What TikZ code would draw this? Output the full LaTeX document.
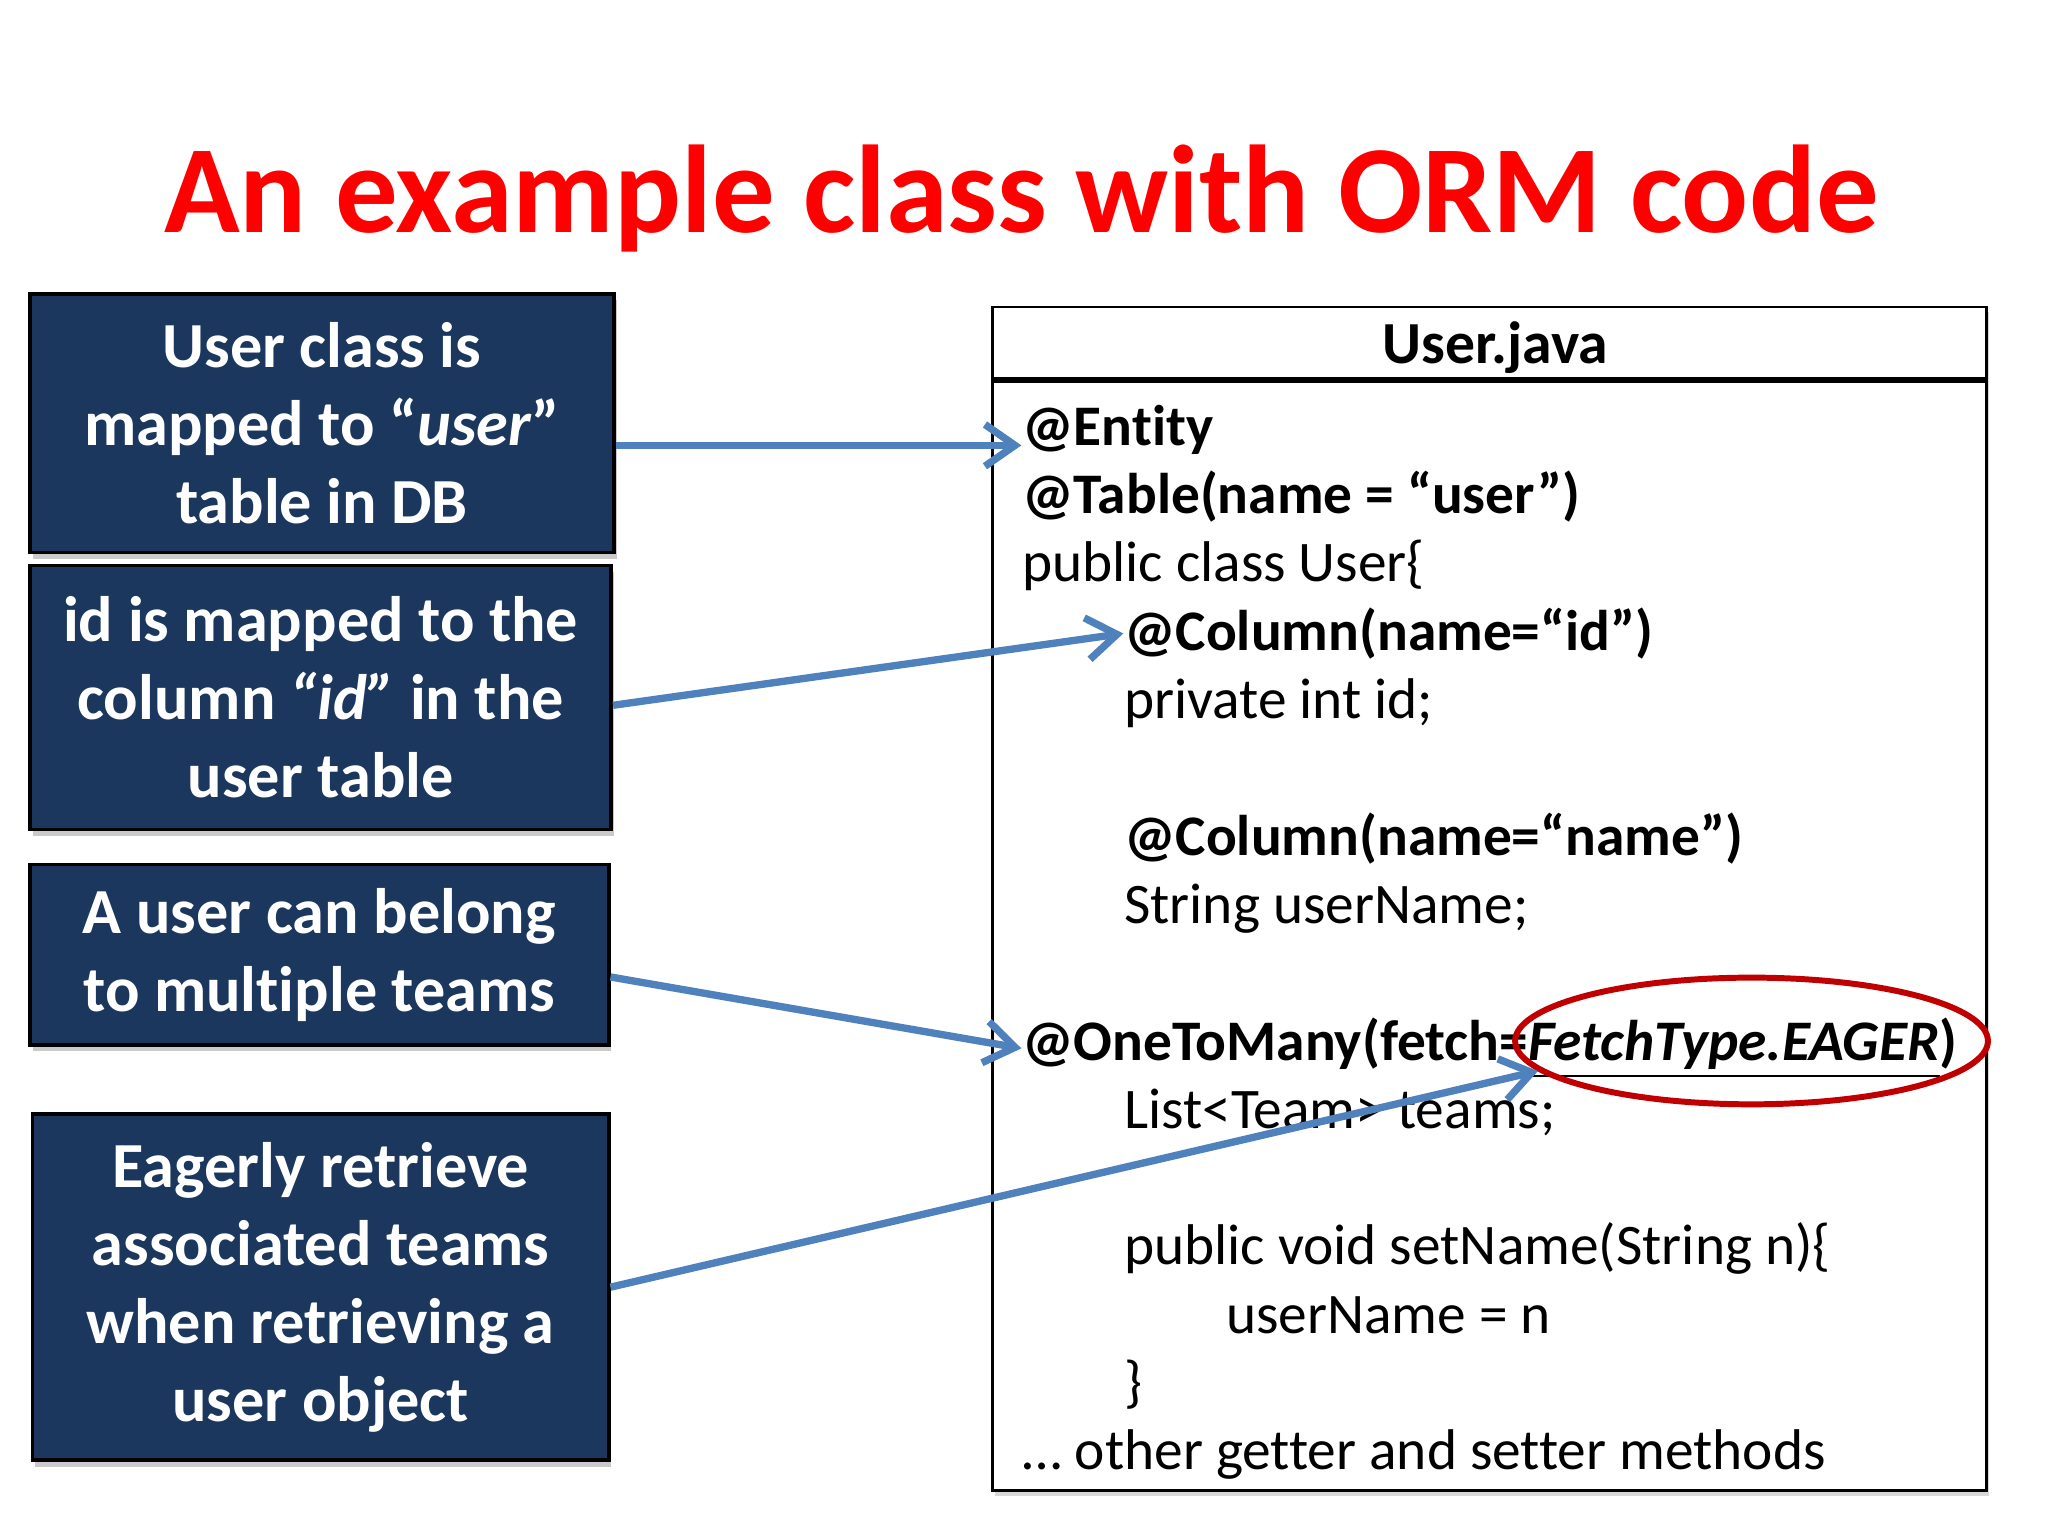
\documentclass[tikz,border=0pt]{standalone}
\usepackage{fontspec}
\setmainfont{Carlito}[Ligatures=NoCommon]
\usetikzlibrary{arrows.meta, positioning, calc, shadows, shapes.geometric}
\definecolor{navy}{HTML}{1B375E}
\definecolor{linkblue}{HTML}{4F81BD}
\definecolor{ringred}{HTML}{C00000}

\begin{document}
\begin{tikzpicture}[
  note/.style={rectangle,draw=black,line width=0.8pt,fill=navy,text=white,align=center,
    font=\fontsize{14}{17}\selectfont\bfseries,inner sep=0pt,
    drop shadow={shadow xshift=0.6pt,shadow yshift=-1.4pt,fill=gray!70,opacity=0.6}},
  codebox/.style={rectangle,draw=black,line width=0.6pt,fill=white,inner sep=0pt,
    drop shadow={shadow xshift=0.6pt,shadow yshift=-1.2pt,fill=gray!60,opacity=0.5}},
  code/.style={anchor=base west,inner sep=0pt,font=\fontsize{12.5}{15}\selectfont},
  ann/.style={code,font=\fontsize{12.5}{15}\selectfont\bfseries},
  link/.style={-{Straight Barb[length=2.3mm,width=3.2mm]},line width=1.6pt,linkblue},
  ring/.style={ellipse,draw=ringred,line width=1.3pt,inner sep=0pt}
]
  \useasboundingbox (0,0) rectangle (15.68,-11.76);
  \node[font=\fontsize{27.2}{33}\selectfont\bfseries,text=red] (title) at (7.82,-1.52) {An example class with ORM code};

  % explanation boxes
  \node[note,minimum width=4.47cm,minimum height=1.98cm] (mapUser) at (2.465,-3.24) {User class is\\mapped to “\textit{user}”\\table in DB};
  \node[note,minimum width=4.45cm,minimum height=2.02cm] (mapId) at (2.455,-5.34) {id is mapped to the\\column \textit{“id”} in the\\user table};
  \node[note,minimum width=4.43cm,minimum height=1.38cm] (belong) at (2.445,-7.31) {A user can belong\\to multiple teams};
  \node[note,minimum width=4.41cm,minimum height=2.65cm] (eager) at (2.455,-9.855) {Eagerly retrieve\\associated teams\\when retrieving a\\user object};

  % source file
  \node[codebox,minimum width=7.61cm,minimum height=9.06cm] (code) at (11.405,-6.88) {};
  \node[font=\fontsize{13}{15}\selectfont\bfseries] (hdr) at (11.45,-2.66) {User.java};
  \draw[line width=1.4pt] ($(code.north west)+(0,-0.57)$) -- ($(code.north east)+(0,-0.57)$);

  \node[ann] (lEntity) at (7.82,-3.41) {@Entity};
  \node[ann] (lTable) at (7.82,-3.93) {@Table(name = “user”)};
  \node[code] (lClass) at (7.82,-4.45) {public class User\{};
  \node[ann] (lColId) at (8.60,-4.98) {@Column(name=“id”)};
  \node[code] (lId) at (8.60,-5.50) {private int id;};
  \node[ann] (lColName) at (8.60,-6.55) {@Column(name=“name”)};
  \node[code] (lName) at (8.60,-7.07) {String userName;};
  \node[ann] (lMany) at (7.82,-8.12) {@OneToMany(fetch=\underline{\textit{FetchType.EAGER}})};
  \node[code] (lTeams) at (8.60,-8.64) {List<Team> teams;};
  \node[code] (lSet) at (8.60,-9.68) {public void setName(String n)\{};
  \node[code] (lAssign) at (9.38,-10.21) {userName = n};
  \node[code] (lClose) at (8.60,-10.73) {\}};
  \node[code] (lMore) at (7.82,-11.25) {… other getter and setter methods};

  \node[ring,minimum width=3.62cm,minimum height=0.97cm] (eagerRing) at (13.41,-7.97) {};

  % arrows
  \draw[link] (mapUser.east |- lEntity.base west) -- (lEntity.base west);
  \draw[link] ($(mapId.east)+(0,-0.06)$) -- (lColId.west);
  \draw[link] ($(belong.east)+(0,-0.17)$) -- (lMany.west);
  \draw[link] (eager.east) -- (eagerRing.188);
\end{tikzpicture}
\end{document}
